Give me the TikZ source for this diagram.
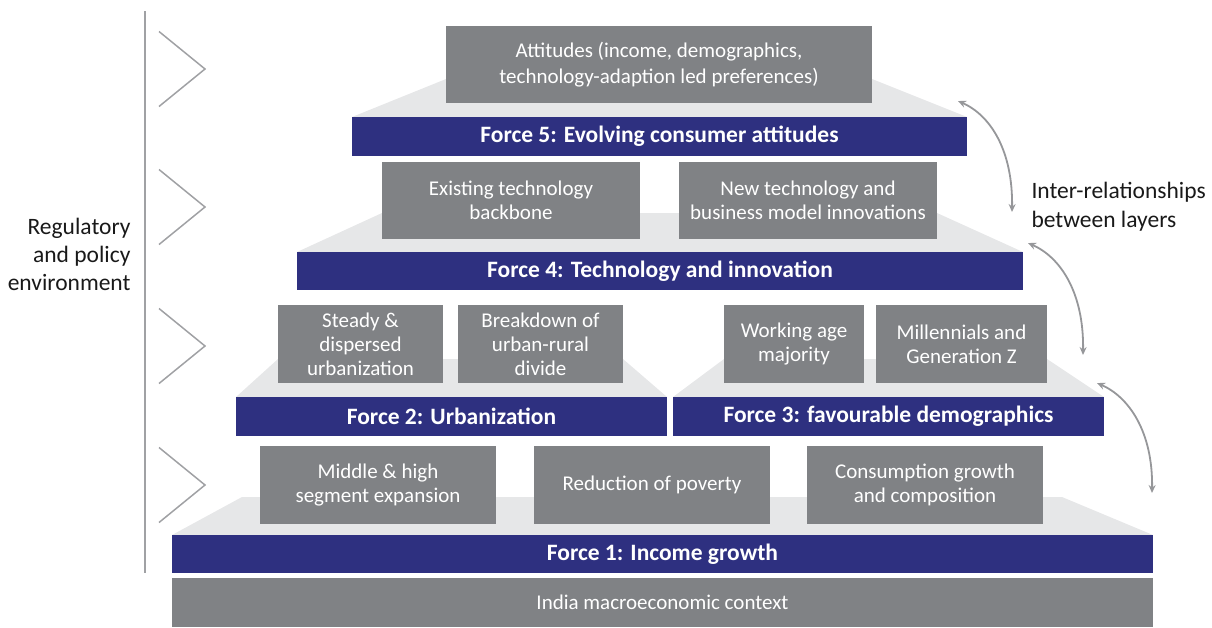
\documentclass[tikz,border=0pt]{standalone}
\usepackage{fontspec}
\setmainfont{Carlito}
\usetikzlibrary{arrows.meta}
\definecolor{navy}{RGB}{46,48,128}
\definecolor{boxgray}{RGB}{128,130,133}
\definecolor{trapgray}{RGB}{230,231,232}
\definecolor{linegray}{RGB}{160,161,164}
\definecolor{arrgray}{RGB}{150,151,154}
\begin{document}
\begin{tikzpicture}[x=1pt,y=-1pt,
  gbox/.style={fill=boxgray, text=white, inner sep=0pt, align=center, font=\fontsize{21}{24}\selectfont},
  forcebar/.style={fill=navy, text=white, inner sep=0pt, font=\fontsize{23.5}{28}\selectfont\bfseries},
  trap/.style={fill=trapgray},
  chev/.style={draw=linegray, line width=1.5pt},
  relarrow/.style={draw=arrgray, line width=1.8pt, {Stealth[length=8pt,width=7pt]}-{Stealth[length=8pt,width=7pt]}},
  sidelabel/.style={font=\fontsize{23.5}{28}\selectfont, text=black!90}]
\useasboundingbox (0,0) rectangle (1212,627);

% left rule and chevrons
\draw[draw=linegray, line width=2pt] (145,11) -- (145,573);
\foreach \t in {69,207,346,485}{
  \draw[chev] (159,\t-37.5) -- (205,\t) -- (159,\t+37.5);
}
\node[sidelabel, anchor=east, align=right] (reg) at (134,254) {Regulatory\\and policy\\environment};

% trapezoids
\fill[trap] (172,535) -- (242,497) -- (1062,497) -- (1153,535) -- cycle;
\fill[trap] (236,397) -- (278,359) -- (623,359) -- (667,397) -- cycle;
\fill[trap] (673,397) -- (724,359) -- (1047,359) -- (1104,397) -- cycle;
\fill[trap] (297,252) -- (382,213) -- (937,213) -- (1023,252) -- cycle;
\fill[trap] (352,117) -- (446,79) -- (872,79) -- (967,117) -- cycle;

% base
\node[gbox, minimum width=981pt, minimum height=49pt] (india) at (662.5,602.5) {India macroeconomic context};

% force 1
\node[forcebar, minimum width=981pt, minimum height=38pt] (f1) at (662.5,554) {Force 1: Income growth};
\node[gbox, minimum width=236pt, minimum height=78pt] (mid) at (378,485) {Middle \& high\\segment expansion};
\node[gbox, minimum width=236pt, minimum height=78pt] (pov) at (652,485) {Reduction of poverty};
\node[gbox, minimum width=236pt, minimum height=78pt] (cons) at (925,485) {Consumption growth\\and composition};

% force 2 and 3
\node[forcebar, minimum width=431pt, minimum height=39pt] (f2) at (451.5,416.5) {Force 2: Urbanization};
\node[forcebar, minimum width=431pt, minimum height=39pt] (f3) at (888.5,416.5) {Force 3: favourable demographics};
\node[gbox, minimum width=165pt, minimum height=78pt] (steady) at (360.5,344) {Steady \&\\dispersed\\urbanization};
\node[gbox, minimum width=165pt, minimum height=78pt] (brk) at (540.5,344) {Breakdown of\\urban-rural\\divide};
\node[gbox, minimum width=140pt, minimum height=78pt] (work) at (794,344) {Working age\\majority};
\node[gbox, minimum width=171pt, minimum height=78pt] (mill) at (961.5,344) {Millennials and\\Generation Z};

% force 4
\node[forcebar, minimum width=726pt, minimum height=38pt] (f4) at (660,271) {Force 4: Technology and innovation};
\node[gbox, minimum width=258pt, minimum height=77pt] (exist) at (511,200.5) {Existing technology\\backbone};
\node[gbox, minimum width=258pt, minimum height=77pt] (newt) at (808,200.5) {New technology and\\business model innovations};

% force 5
\node[forcebar, minimum width=615pt, minimum height=39pt] (f5) at (659.5,136.5) {Force 5: Evolving consumer attitudes};
\node[gbox, font=\fontsize{21}{26}\selectfont, minimum width=426pt, minimum height=77pt] (att) at (659,64.5) {Attitudes (income, demographics,\\technology-adaption led preferences)};

% inter-relationship arrows
\coordinate (a1s) at (958,101);
\coordinate (a1e) at (1012,212);
\coordinate (a2s) at (1028,243);
\coordinate (a2e) at (1083,355);
\coordinate (a3s) at (1097,383);
\coordinate (a3e) at (1152,493);
\draw[relarrow] (a1s) .. controls (990,115) and (1013,150) .. (a1e);
\draw[relarrow] (a2s) .. controls (1060,257) and (1084,292) .. (a2e);
\draw[relarrow] (a3s) .. controls (1129,397) and (1153,432) .. (a3e);
\node[sidelabel, anchor=west, align=left, font=\fontsize{23.5}{29}\selectfont] (inter) at (1028,207) {Inter-relationships\\between layers};
\end{tikzpicture}
\end{document}
